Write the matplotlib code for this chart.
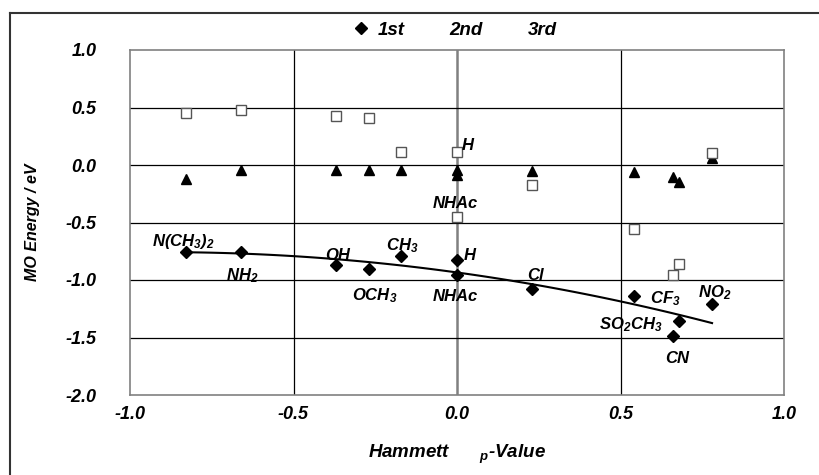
import numpy as np
import matplotlib
matplotlib.use("Agg")
import matplotlib.pyplot as plt
from matplotlib.lines import Line2D

# Hammett sigma_p values of the substituents
names = ['N(CH$_3$)$_2$', 'NH$_2$', 'OH', 'OCH$_3$', 'CH$_3$', 'H', 'NHAc',
         'Cl', 'CF$_3$', 'SO$_2$CH$_3$', 'CN', 'NO$_2$']
sigma = [-0.83, -0.66, -0.37, -0.27, -0.17, 0.00, 0.00, 0.23, 0.54, 0.68, 0.66, 0.78]
first = [-0.76, -0.76, -0.87, -0.90, -0.79, -0.83, -0.96, -1.08, -1.14, -1.36, -1.49, -1.21]
second = [-0.12, -0.04, -0.04, -0.04, -0.04, -0.04, -0.09, -0.05, -0.06, -0.15, -0.10, 0.06]
third = [0.45, 0.48, 0.43, 0.41, 0.11, 0.115, -0.45, -0.17, -0.56, -0.86, -0.96, 0.107]

xticks = [-1.0, -0.5, 0.0, 0.5, 1.0]
yticks = [1.0, 0.5, 0.0, -0.5, -1.0, -1.5, -2.0]

plt.rcParams['font.family'] = ['Liberation Sans', 'DejaVu Sans']
plt.rcParams['font.weight'] = 'bold'
plt.rcParams['font.style'] = 'italic'
plt.rcParams['axes.labelweight'] = 'bold'
plt.rcParams['mathtext.fontset'] = 'custom'
plt.rcParams['mathtext.rm'] = 'Liberation Sans:bold:italic'
plt.rcParams['mathtext.it'] = 'Liberation Sans:bold:italic'
plt.rcParams['mathtext.default'] = 'rm'

fig = plt.figure(figsize=(8.2, 4.75), dpi=100)
ax = fig.add_axes([130/820, 1-395/475, 654/820, 345/475])

# outer frame (top and left only, as cropped)
fig.add_artist(Line2D([10/820, 1], [1-13/475, 1-13/475], color='#333333', lw=1.5))
fig.add_artist(Line2D([10/820, 10/820], [0, 1-13/475], color='#333333', lw=1.5))

for v in [-0.5, 0.5]:
    ax.axvline(v, color='black', lw=0.9, zorder=1)
ax.axvline(0.0, color='#808080', lw=1.8, zorder=1)
for v in [0.5, 0.0, -0.5, -1.0, -1.5]:
    ax.axhline(v, color='black', lw=0.9, zorder=1)

ax.plot(sigma, first, linestyle='none', marker='D', ms=6.5, color='black', label='1st', zorder=4)
ax.plot(sigma, second, linestyle='none', marker='^', ms=7.5, color='black', label='2nd', zorder=3)
ax.plot(sigma, third, linestyle='none', marker='s', ms=7.5, mfc='white', mec='#555555',
        mew=1.0, label='3rd', zorder=3)

# 2nd order trendline of the 1st series
coef = np.polyfit(sigma, first, 2)
xs = np.linspace(min(sigma), max(sigma), 100)
ax.plot(xs, np.polyval(coef, xs), color='black', lw=1.5, zorder=2)

# label offsets in pixels (dx, dy)
offsets = [(-2, 11), (1, -23), (2, 10), (6, -27), (1, 10), (13, 5), (-2, -21),
           (3, 14), (32, -3), (-49, -3), (4, -22), (3, 12)]
for name, x, y, off in zip(names, sigma, first, offsets):
    ax.annotate(name, (x, y), xytext=off, textcoords='offset pixels',
                ha='center', va='center', fontsize=12)
ax.annotate('H', (sigma[5], third[5]), xytext=(11, 6), textcoords='offset pixels',
            ha='center', va='center', fontsize=12)
ax.annotate('NHAc', (sigma[6], second[6]), xytext=(-2, -28), textcoords='offset pixels',
            ha='center', va='center', fontsize=12)

ax.set_xlim(-1.0, 1.0)
ax.set_ylim(-2.0, 1.0)
ax.set_xticks(xticks)
ax.set_yticks(yticks)
ax.set_xticklabels([f'{t:.1f}' for t in xticks])
ax.set_yticklabels([f'{t:.1f}' for t in yticks])
ax.tick_params(axis='both', length=0, labelsize=13)
ax.tick_params(axis='y', pad=24)
ax.tick_params(axis='x', pad=8)
for s in ax.spines.values():
    s.set_color('#808080')
    s.set_linewidth(1.2)

ax.set_ylabel('MO Energy / eV', fontsize=11.5)
ax.yaxis.set_label_coords(-0.137, 0.5)
ax.set_xlabel('Hammett      $_p$-Value', fontsize=13.5)
ax.xaxis.set_label_coords(0.5, -0.14)

leg = fig.legend(loc='center', bbox_to_anchor=(454/820, 1-30/475), ncol=3, frameon=False,
                 fontsize=13.5, handletextpad=0.4, columnspacing=1.0, handlelength=1.0)
for h in leg.legend_handles[1:]:
    h.set_visible(False)

fig.savefig('out.png', dpi=100)
